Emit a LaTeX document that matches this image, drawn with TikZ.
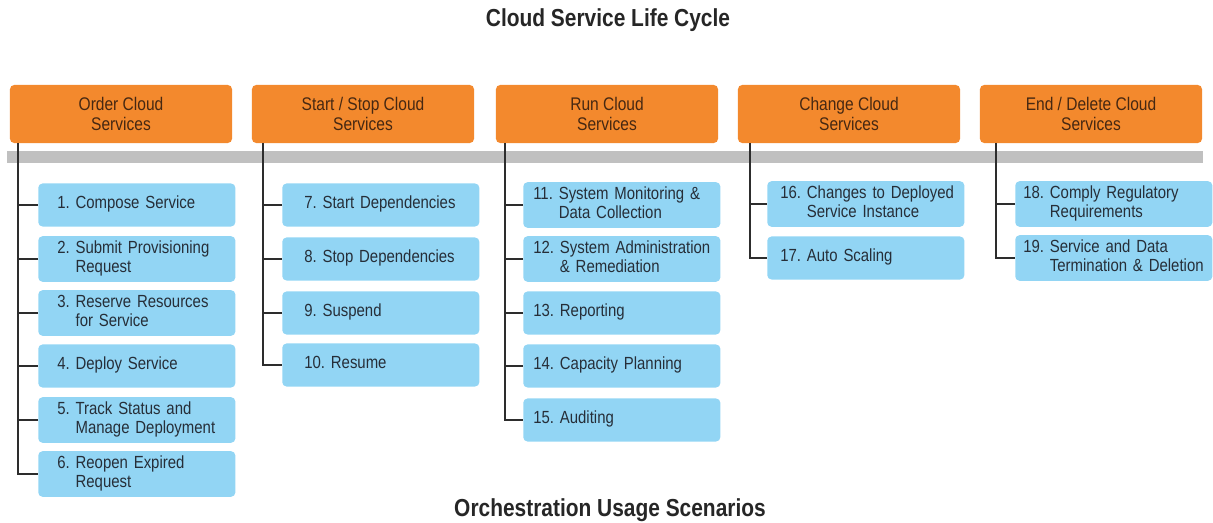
\documentclass[tikz,border=0pt]{standalone}
\usepackage{fontspec}
\setmainfont[FakeStretch=0.85]{Liberation Sans}
\usepackage{xcolor}
\definecolor{lcorange}{RGB}{243,137,45}
\definecolor{lcblue}{RGB}{146,213,244}
\definecolor{lcgray}{RGB}{192,192,192}
\definecolor{lcline}{RGB}{45,45,45}
\definecolor{lctext}{RGB}{38,46,56}
\definecolor{lcbrown}{RGB}{70,40,18}
\usepackage{tikz}
\usetikzlibrary{positioning}

% number + text with hanging indent
\newcommand{\lcitem}[2]{#1~\begin{tabular}[t]{@{}l@{}}#2\end{tabular}}

\begin{document}
\begin{tikzpicture}[
    x=0.025cm, y=-0.025cm,
    phase/.style={rectangle, rounded corners=3pt, fill=lcorange, text=lcbrown,
                  minimum width=5.55cm, minimum height=1.45cm, inner sep=2pt,
                  align=center, font=\fontsize{13}{14.2}\selectfont},
    item/.style={rectangle, rounded corners=3pt, fill=lcblue, text=lctext,
                 minimum height=1.075cm, inner ysep=2pt, inner xsep=#1,
                 anchor=west, align=left, font=\fontsize{12.5}{14.2}\selectfont},
    w1/.style={item=0.475cm, text width=3.975cm},
    w2/.style={item=0.55cm, text width=3.825cm},
    w3/.style={item=0.25cm, text width=4.425cm},
    w4/.style={item=0.325cm, text width=4.275cm},
    w5/.style={item=0.2cm, text width=4.525cm},
    heading/.style={font=\bfseries\fontsize{17.5}{20}\selectfont, text=black!85},
    link/.style={draw=lcline, line width=1.2pt}
  ]
    \useasboundingbox (0,0) rectangle (1213,523);

    % Titles
    \node[heading] (title) at (608,20) {Cloud Service Life Cycle};
    \node[heading] (subtitle) at (610,510) {Orchestration Usage Scenarios};

    % Phases
    \node[phase] (o1) at (121,114) {Order Cloud\\Services};
    \node[phase] (o2) at (363,114) {Start / Stop Cloud\\Services};
    \node[phase] (o3) at (607,114) {Run Cloud\\Services};
    \node[phase] (o4) at (849,114) {Change Cloud\\Services};
    \node[phase] (o5) at (1091,114) {End / Delete Cloud\\Services};

    % Gray timeline bar
    \fill[lcgray] (7,151) rectangle (1203,163);

    % Order
    \node[w1] (c1) at (38,205) {\lcitem{1.}{Compose Service}};
    \node[w1] (c2) at (38,259) {\lcitem{2.}{Submit Provisioning\\Request}};
    \node[w1] (c3) at (38,313) {\lcitem{3.}{Reserve Resources\\for Service}};
    \node[w1] (c4) at (38,366) {\lcitem{4.}{Deploy Service}};
    \node[w1] (c5) at (38,420) {\lcitem{5.}{Track Status and\\Manage Deployment}};
    \node[w1] (c6) at (38,474) {\lcitem{6.}{Reopen Expired\\Request}};

    % Start / Stop
    \node[w2] (c7) at (282,205) {\lcitem{7.}{Start Dependencies}};
    \node[w2] (c8) at (282,259) {\lcitem{8.}{Stop Dependencies}};
    \node[w2] (c9) at (282,313) {\lcitem{9.}{Suspend}};
    \node[w2] (c10) at (282,365) {\lcitem{10.}{Resume}};

    % Run
    \node[w3] (c11) at (523,205) {\lcitem{11.}{System Monitoring \&\\Data Collection}};
    \node[w3] (c12) at (523,259) {\lcitem{12.}{System Administration\\\& Remediation}};
    \node[w3] (c13) at (523,313) {\lcitem{13.}{Reporting}};
    \node[w3] (c14) at (523,366) {\lcitem{14.}{Capacity Planning}};
    \node[w3] (c15) at (523,420) {\lcitem{15.}{Auditing}};

    % Change
    \node[w4] (c16) at (767,204) {\lcitem{16.}{Changes to Deployed\\Service Instance}};
    \node[w4] (c17) at (767,258) {\lcitem{17.}{Auto Scaling}};

    % End / Delete
    \node[w5] (c18) at (1015,204) {\lcitem{18.}{Comply Regulatory\\Requirements}};
    \node[w5] (c19) at (1015,258) {\lcitem{19.}{Service and Data\\Termination \& Deletion}};

    % Tree lines
    \coordinate (t1) at (18,143);
    \coordinate (t2) at (263,143);
    \coordinate (t3) at (505,143);
    \coordinate (t4) at (750,143);
    \coordinate (t5) at (996,143);

    \draw[link] (t1) |- (c6.west);
    \draw[link] (c1.west) -- (c1.west -| t1) (c2.west) -- (c2.west -| t1)
                (c3.west) -- (c3.west -| t1) (c4.west) -- (c4.west -| t1)
                (c5.west) -- (c5.west -| t1);
    \draw[link] (t2) |- (c10.west);
    \draw[link] (c7.west) -- (c7.west -| t2) (c8.west) -- (c8.west -| t2)
                (c9.west) -- (c9.west -| t2);
    \draw[link] (t3) |- (c15.west);
    \draw[link] (c11.west) -- (c11.west -| t3) (c12.west) -- (c12.west -| t3)
                (c13.west) -- (c13.west -| t3) (c14.west) -- (c14.west -| t3);
    \draw[link] (t4) |- (c17.west);
    \draw[link] (c16.west) -- (c16.west -| t4);
    \draw[link] (t5) |- (c19.west);
    \draw[link] (c18.west) -- (c18.west -| t5);
  \end{tikzpicture}
\end{document}
